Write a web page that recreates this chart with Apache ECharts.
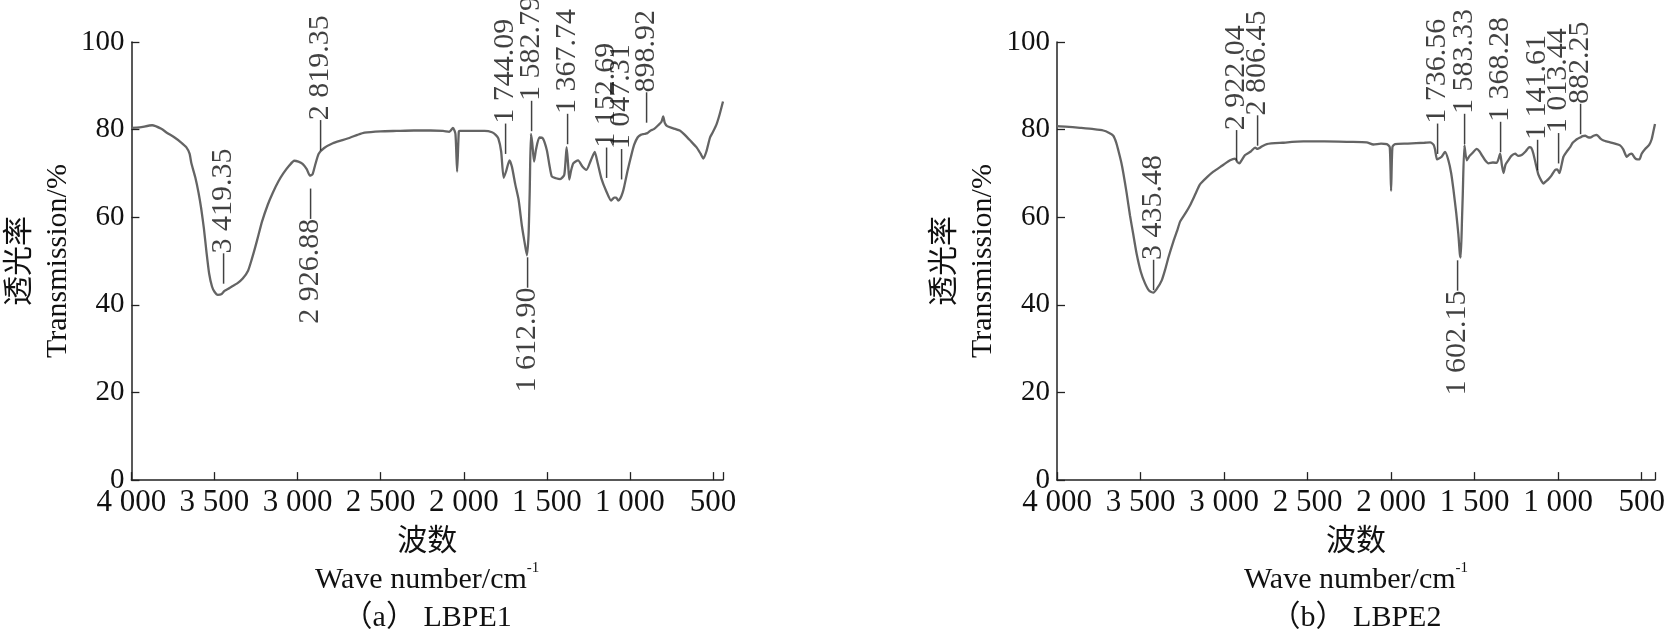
<!DOCTYPE html>
<html><head><meta charset="utf-8">
<script src="https://cdn.jsdelivr.net/npm/echarts@6/dist/echarts.min.js"></script>
<style>html,body{margin:0;padding:0;background:#fff}#c{width:1671px;height:642px}</style>
</head><body><div id="c"></div>
<script>
// ---- data ----
const xTicks = [4000, 3500, 3000, 2500, 2000, 1500, 1000, 500];
const yTicks = [0, 20, 40, 60, 80, 100];

const waveA = [4000,3950,3875,3820,3787,3740,3702,3670,3650,3639,3615,3596,3580,3564,3548,3532,3515,3500,3480,3460,3440,3420,3400,3363,3330,3298,3275,3256,3235,3214,3180,3149,3115,3086,3050,3020,2995,2970,2945,2926,2910,2895,2873,2840,2788,2730,2682,2640,2597,2500,2405,2300,2200,2125,2087,2065,2050,2040,2030,2024,1950,1875,1830,1808,1792,1775,1760,1745,1725,1710,1690,1670,1650,1635,1620,1610,1603,1596,1588,1577,1565,1545,1524,1500,1485,1470,1445,1420,1395,1381,1372,1365,1355,1341,1312,1285,1262,1235,1212,1195,1173,1143,1113,1095,1083,1070,1058,1045,1034,1015,994,975,954,935,915,895,875,856,830,810,800,790,776,740,696,670,637,600,575,558,540,518,500,479,460,440];
const transA = [80.4,80.5,81.0,80.2,79.3,78.2,77.1,76.0,74.5,72.3,69.0,65.6,62.0,57.5,52.0,47.1,44.2,43.0,42.3,42.4,43.2,43.6,44.1,44.9,46.0,47.8,50.5,53.0,56.0,59.0,62.8,65.6,68.2,70.0,71.8,72.9,72.7,72.2,71.0,69.5,69.8,71.8,74.5,75.8,76.9,77.6,78.2,78.8,79.3,79.6,79.7,79.8,79.8,79.7,79.5,80.4,79.0,70.4,79.5,79.7,79.7,79.7,79.4,78.8,78.0,75.0,69.0,70.5,73.0,71.5,67.5,64.0,58.0,54.5,51.3,56.0,66.0,79.0,77.0,72.7,75.5,78.2,78.0,75.3,72.0,69.3,68.9,68.7,69.7,76.0,72.0,68.6,70.5,72.3,73.0,71.5,70.8,73.0,74.9,72.5,69.0,66.0,63.8,64.5,64.5,63.8,64.3,65.5,67.1,70.5,73.8,76.5,78.2,78.8,79.0,79.2,79.8,80.1,81.0,81.8,83.0,81.5,80.8,80.3,79.7,78.8,77.5,76.0,74.5,73.4,75.0,78.2,79.5,81.2,83.5,86.4];

const waveB = [4000,3950,3862,3780,3723,3690,3663,3645,3633,3615,3603,3583,3563,3543,3523,3498,3473,3448,3423,3400,3373,3353,3333,3303,3280,3263,3230,3204,3175,3144,3100,3064,3010,2964,2934,2920,2908,2895,2874,2840,2814,2800,2780,2744,2650,2525,2400,2250,2146,2106,2060,2026,2008,2000,1992,1976,1900,1800,1766,1745,1737,1725,1710,1697,1677,1657,1640,1627,1610,1597,1588,1583,1575,1571,1561,1547,1530,1517,1487,1470,1457,1437,1417,1390,1367,1347,1337,1327,1315,1298,1280,1257,1240,1218,1195,1172,1160,1148,1133,1118,1100,1088,1073,1058,1040,1018,1005,992,980,968,948,928,913,898,883,868,853,838,823,808,788,768,748,728,710,689,660,629,610,589,574,559,540,525,513,500,479,455,440,430,420];
const transB = [80.8,80.7,80.4,80.1,79.8,79.3,78.6,77.0,75.3,72.5,70.1,65.5,60.4,56.0,51.6,47.5,44.9,43.2,42.8,43.8,45.6,48.0,50.8,54.5,57.0,59.0,61.0,62.7,65.0,67.5,69.2,70.4,71.8,73.0,73.4,72.6,72.3,73.0,74.2,75.0,75.9,75.6,76.0,76.7,77.0,77.3,77.3,77.2,77.1,76.6,76.8,76.7,76.0,66.0,76.0,76.7,76.8,77.0,77.1,76.5,75.5,73.2,73.5,73.8,74.9,73.0,70.0,66.4,61.0,56.0,51.5,50.8,60.0,64.9,76.4,73.0,74.0,74.5,75.6,75.0,74.2,73.0,72.3,72.5,72.4,74.5,72.0,70.1,72.0,73.0,74.0,74.5,74.0,74.2,75.0,76.0,75.8,74.5,72.0,69.7,68.3,67.7,68.2,68.7,69.5,70.8,70.9,70.1,71.8,73.8,75.0,76.0,77.0,77.5,77.9,78.2,78.5,78.6,78.3,78.2,78.6,78.8,78.0,77.5,77.3,77.1,76.8,76.4,75.5,73.8,74.3,74.5,73.5,73.2,73.2,74.5,75.6,76.5,77.8,79.5,81.3];

// peak annotations (text, wavenumber where the leader sits, transmission level of leader end, side)
const peakTextA  = ['3 419.35','2 926.88','2 819.35','1 744.09','1 612.90','1 582.79','1 367.74','1 152.69','1 047.31','898.92'];
const peakWaveA  = [3447, 2926, 2863, 1749, 1619, 1594, 1375, 1143, 1054, 905];
const peakLevelA = [44.9, 66.5, 75.3, 74.5, 50.8, 79.7, 76.7, 69.0, 68.7, 81.6];
const peakSideA  = ['up','down','up','up','down','up','up','up','up','up'];

const peakTextB  = ['3 435.48','2 922.04','2 806.45','1 736.56','1 602.15','1 583.33','1 368.28','1 141.61','1 013.44','882.25'];
const peakWaveB  = [3423, 2928, 2804, 1723, 1607, 1563, 1347, 1124, 998, 868];
const peakLevelB = [43.4, 73.0, 76.4, 74.5, 50.1, 76.7, 74.9, 70.8, 72.3, 79.0];
const peakSideB  = ['up','up','up','up','down','up','up','up','up','up'];

const panelTitles = ['（a） LBPE1', '（b） LBPE2'];

// ---- build ----
const FONT = '"Liberation Serif", "Noto Sans CJK SC", serif';
const INK = '#111';
const fmtTick = v => v >= 1000 ? String(v).replace(/(\d)(\d{3})$/, '$1 $2') : String(v);
const zip = (a, b) => a.map((v, i) => [v, b[i]]);

function xAxisFor(idx, min, title) {
  return {
    type: 'value', gridIndex: idx, inverse: true, min: min, max: 4000,
    axisLine: { show: true, onZero: false, lineStyle: { color: '#222', width: 1.5 } },
    axisTick: { show: true, inside: true, length: 8, customValues: xTicks.concat([min]), lineStyle: { color: '#222', width: 1.3 } },
    axisLabel: { customValues: xTicks, formatter: fmtTick, fontSize: 31, fontFamily: FONT, color: INK, margin: 7 },
    splitLine: { show: false },
    name: '波数\nWave number/cm{sup|-1}\n' + title,
    nameLocation: 'middle', nameGap: 38,
    nameTextStyle: { fontSize: 30, fontFamily: FONT, color: INK, lineHeight: 38,
      rich: { sup: { fontSize: 15, fontFamily: FONT, color: INK, verticalAlign: 'top', lineHeight: 38 } } }
  };
}
function yAxisFor(idx) {
  return {
    type: 'value', gridIndex: idx, min: yTicks[0], max: yTicks[yTicks.length - 1], interval: 20,
    axisLine: { show: true, lineStyle: { color: '#222', width: 1.5 } },
    axisTick: { show: true, inside: true, length: 8, lineStyle: { color: '#222', width: 1.3 } },
    axisLabel: { fontSize: 29, fontFamily: FONT, color: INK, margin: 7 },
    splitLine: { show: false },
    name: '透光率\nTransmission/%', nameLocation: 'middle', nameRotate: 90, nameGap: 51,
    nameTextStyle: { fontSize: 30, fontFamily: FONT, color: INK, lineHeight: 38 }
  };
}
function curve(idx, w, t) {
  return {
    type: 'line', xAxisIndex: idx, yAxisIndex: idx, data: zip(w, t),
    showSymbol: false, smooth: 0.2, lineStyle: { color: '#646464', width: 2.3 },
    emphasis: { disabled: true }, silent: true, z: 3
  };
}
function peaks(idx, texts, waves, levels, sides) {
  return {
    type: 'scatter', xAxisIndex: idx, yAxisIndex: idx, symbolSize: 1,
    itemStyle: { color: 'rgba(0,0,0,0)' }, silent: true, z: 4,
    data: texts.map((s, i) => ({
      name: sides[i] === 'up' ? '—' + s : s + '—',
      value: [waves[i], levels[i]],
      label: { align: sides[i] === 'up' ? 'left' : 'right' }
    })),
    label: { show: true, position: 'inside', rotate: 90, verticalAlign: 'middle',
      formatter: p => p.name, fontSize: 30, fontFamily: FONT, color: INK }
  };
}

const chart = echarts.init(document.getElementById('c'), null, { renderer: 'canvas' });
chart.setOption({
  animation: false,
  backgroundColor: '#fff',
  grid: [
    { left: 125, top: 42, width: 598, height: 450 },
    { left: 1057, top: 42, width: 598, height: 450 }
  ],
  xAxis: [xAxisFor(0, 440, panelTitles[0]), xAxisFor(1, 420, panelTitles[1])],
  yAxis: [yAxisFor(0), yAxisFor(1)],
  series: [
    curve(0, waveA, transA), curve(1, waveB, transB),
    peaks(0, peakTextA, peakWaveA, peakLevelA, peakSideA),
    peaks(1, peakTextB, peakWaveB, peakLevelB, peakSideB)
  ]
});
</script></body></html>
